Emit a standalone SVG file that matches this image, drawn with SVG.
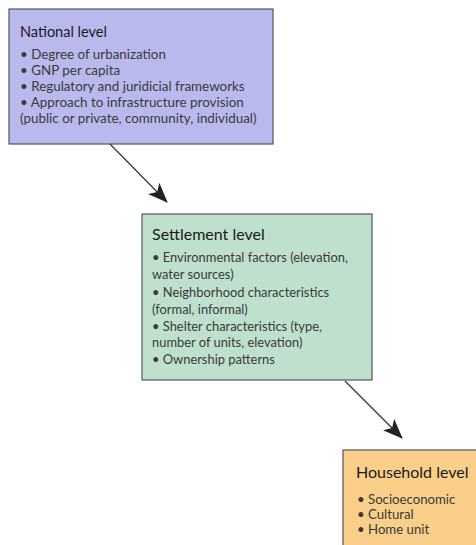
<svg xmlns="http://www.w3.org/2000/svg" width="476" height="545" viewBox="0 0 476 545">
<defs>
<style>
.box{stroke:#555;stroke-width:1.2}
.t{font-family:Lato,"Open Sans","Liberation Sans",sans-serif;font-size:14.5px;fill:#1a1a1a}
.b{font-family:Lato,"Open Sans","Liberation Sans",sans-serif;font-size:13.4px;fill:#3a3a3a}
#settlement .t{font-size:16px}
#settlement .b{font-size:12.9px}
#household .t{font-size:16px}
#household .b{font-size:13.2px}
.c{stroke:#333;stroke-width:1.2;fill:none}
</style>
<marker id="ah" viewBox="0 0 20 16" refX="19" refY="8" markerWidth="20" markerHeight="16" markerUnits="userSpaceOnUse" orient="auto">
<path d="M0,0 L20,8 L0,16 L5,8 Z" fill="#222"/>
</marker>
</defs>
<rect width="476" height="545" fill="#fff"/>
<g id="national">
<rect class="box" x="9" y="9" width="264" height="135" fill="#b9b9ee"/>
<text class="t" x="20" y="37">National level</text>
<text class="b" x="20" y="59">• Degree of urbanization</text>
<text class="b" x="20" y="75">• GNP per capita</text>
<text class="b" x="20" y="91">• Regulatory and juridicial frameworks</text>
<text class="b" x="20" y="107">• Approach to infrastructure provision</text>
<text class="b" x="20" y="123">(public or private, community, individual)</text>
</g>
<g id="settlement">
<rect class="box" x="142" y="214" width="230" height="166" fill="#bfe0cc"/>
<text class="t" x="152" y="240">Settlement level</text>
<text class="b" x="152" y="262">• Environmental factors (elevation,</text>
<text class="b" x="152" y="279">water sources)</text>
<text class="b" x="152" y="297">• Neighborhood characteristics</text>
<text class="b" x="152" y="314">(formal, informal)</text>
<text class="b" x="152" y="331">• Shelter characteristics (type,</text>
<text class="b" x="152" y="347">number of units, elevation)</text>
<text class="b" x="152" y="364">• Ownership patterns</text>
</g>
<g id="household">
<rect class="box" x="343" y="450" width="140" height="100" fill="#f9cf8a"/>
<text class="t" x="356" y="478">Household level</text>
<text class="b" x="357" y="504">• Socioeconomic</text>
<text class="b" x="357" y="519">• Cultural</text>
<text class="b" x="357" y="534">• Home unit</text>
</g>
<g id="connectors">
<line class="c" x1="110" y1="144" x2="167" y2="202" marker-end="url(#ah)"/>
<line class="c" x1="345" y1="381" x2="402" y2="438" marker-end="url(#ah)"/>
</g>
</svg>
